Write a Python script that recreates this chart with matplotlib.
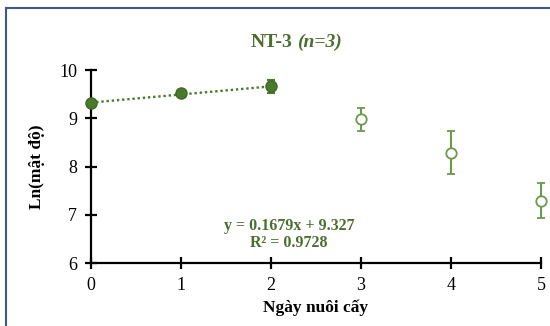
import numpy as np
import matplotlib
matplotlib.use('Agg')
import matplotlib.pyplot as plt
from matplotlib.lines import Line2D

# growth curve, NT-3 strain
days_fit = [0, 1, 2]
ln_fit = [9.32, 9.53, 9.66]
err_fit = [0.0, 0.0, 0.13]

days_decline = [3, 4, 5]
ln_decline = [8.98, 8.29, 7.29]
err_decline = [0.24, 0.45, 0.36]

slope = 0.1679
intercept = 9.327
r2 = 0.9728

dark_green = '#4a7a2c'
light_green = '#6a9a4c'
text_green = '#4b6e2f'

plt.rcParams['font.family'] = ['Liberation Serif', 'DejaVu Serif']

fig = plt.figure(figsize=(5.5, 3.26), dpi=100)
ax = fig.add_axes([0.1655, 0.193, 0.818, 0.592])

# frame line on the left and top edges
fig.add_artist(Line2D([6/550, 6/550], [0, 1 - 8/326], color='#3d5a8a', lw=1.5,
                      transform=fig.transFigure))
fig.add_artist(Line2D([6/550, 1], [1 - 8/326, 1 - 8/326], color='#3d5a8a', lw=1.5,
                      transform=fig.transFigure))

# trendline over exponential phase
xs = np.array([0, 2])
ax.plot(xs, slope * xs + intercept, ls=(0, (1, 1.2)), color=dark_green, lw=1.7, zorder=2)

ax.errorbar(days_fit, ln_fit, yerr=err_fit, fmt='o', ms=8, color=dark_green,
            mfc=dark_green, mec='#3f6a25', ecolor=dark_green, elinewidth=1.5,
            capsize=3, capthick=1.5, zorder=3, clip_on=False)
ax.errorbar(days_decline, ln_decline, yerr=err_decline, fmt='o', ms=7.5,
            mfc='white', mec=light_green, mew=1.3, ecolor=light_green,
            elinewidth=1.5, capsize=3, capthick=1.5, zorder=3, clip_on=False)

ax.set_xlim(0, 5)
ax.set_ylim(6, 10)
ax.set_xticks(range(6))
ax.set_yticks([6, 7, 8, 9, 10])
for s in ['top', 'right']:
    ax.spines[s].set_visible(False)
for s in ['left', 'bottom']:
    ax.spines[s].set_linewidth(1.6)
ax.tick_params(direction='inout', length=8, width=1.6, labelsize=13, pad=6)

ax.set_xlabel('Ngày nuôi cấy', fontsize=12.5, fontweight='bold', labelpad=4)
ax.set_ylabel('Ln(mật độ)', fontsize=12.5, fontweight='bold', labelpad=10)

title_y = 1 - 47/326
fig.text(0.532, title_y, 'NT-3', ha='right', va='baseline', fontsize=14,
         fontweight='bold', color=text_green)
fig.text(0.54, title_y, '(n=3)', ha='left', va='baseline', fontsize=14,
         fontweight='bold', style='italic', color=text_green)

ax.text(2.2, 6.6, f'y = {slope}x + {intercept}\nR² = {r2}', ha='center', va='center',
        fontsize=11.5, fontweight='bold', color=text_green, linespacing=1.1)

fig.savefig('out.png', dpi=100)
